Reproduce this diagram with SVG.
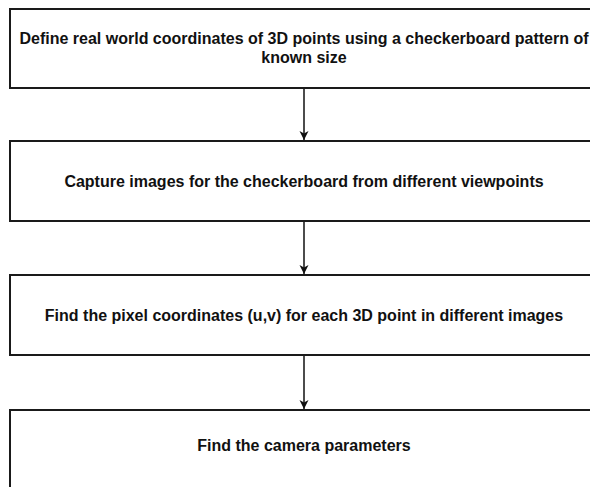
<svg xmlns="http://www.w3.org/2000/svg" width="590" height="487" viewBox="0 0 590 487">
<style>
.box{fill:#fff;stroke:#1a1a1a;stroke-width:2}
.t{font-family:"Liberation Sans",Arial,sans-serif;font-weight:bold;font-size:16px;fill:#111;text-anchor:middle}
.c{stroke:#111;stroke-width:1.5;fill:none}
</style>
<defs>
<marker id="ah" markerWidth="10" markerHeight="10" refX="9" refY="5" orient="auto" markerUnits="userSpaceOnUse">
<path d="M0,0.5 L9,5 L0,9.5 L2.5,5 Z" fill="#111"/>
</marker>
</defs>
<rect width="590" height="487" fill="#fff"/>
<g id="n1"><rect class="box" x="10" y="9" width="588" height="79"/>
<text class="t" x="304" y="44">Define real world coordinates of 3D points using a checkerboard pattern of</text>
<text class="t" x="304" y="63">known size</text></g>
<g id="n2"><rect class="box" x="10" y="141" width="588" height="80"/>
<text class="t" x="304" y="187">Capture images for the checkerboard from different viewpoints</text></g>
<g id="n3"><rect class="box" x="10" y="275" width="588" height="80"/>
<text class="t" x="304" y="321">Find the pixel coordinates (u,v) for each 3D point in different images</text></g>
<g id="n4"><rect class="box" x="10" y="410" width="588" height="80"/>
<text class="t" x="304" y="451">Find the camera parameters</text></g>
<g id="connectors">
<line class="c" x1="304" y1="89" x2="304" y2="140" marker-end="url(#ah)"/>
<line class="c" x1="304" y1="222" x2="304" y2="274" marker-end="url(#ah)"/>
<line class="c" x1="304" y1="356" x2="304" y2="409" marker-end="url(#ah)"/>
</g>
</svg>
